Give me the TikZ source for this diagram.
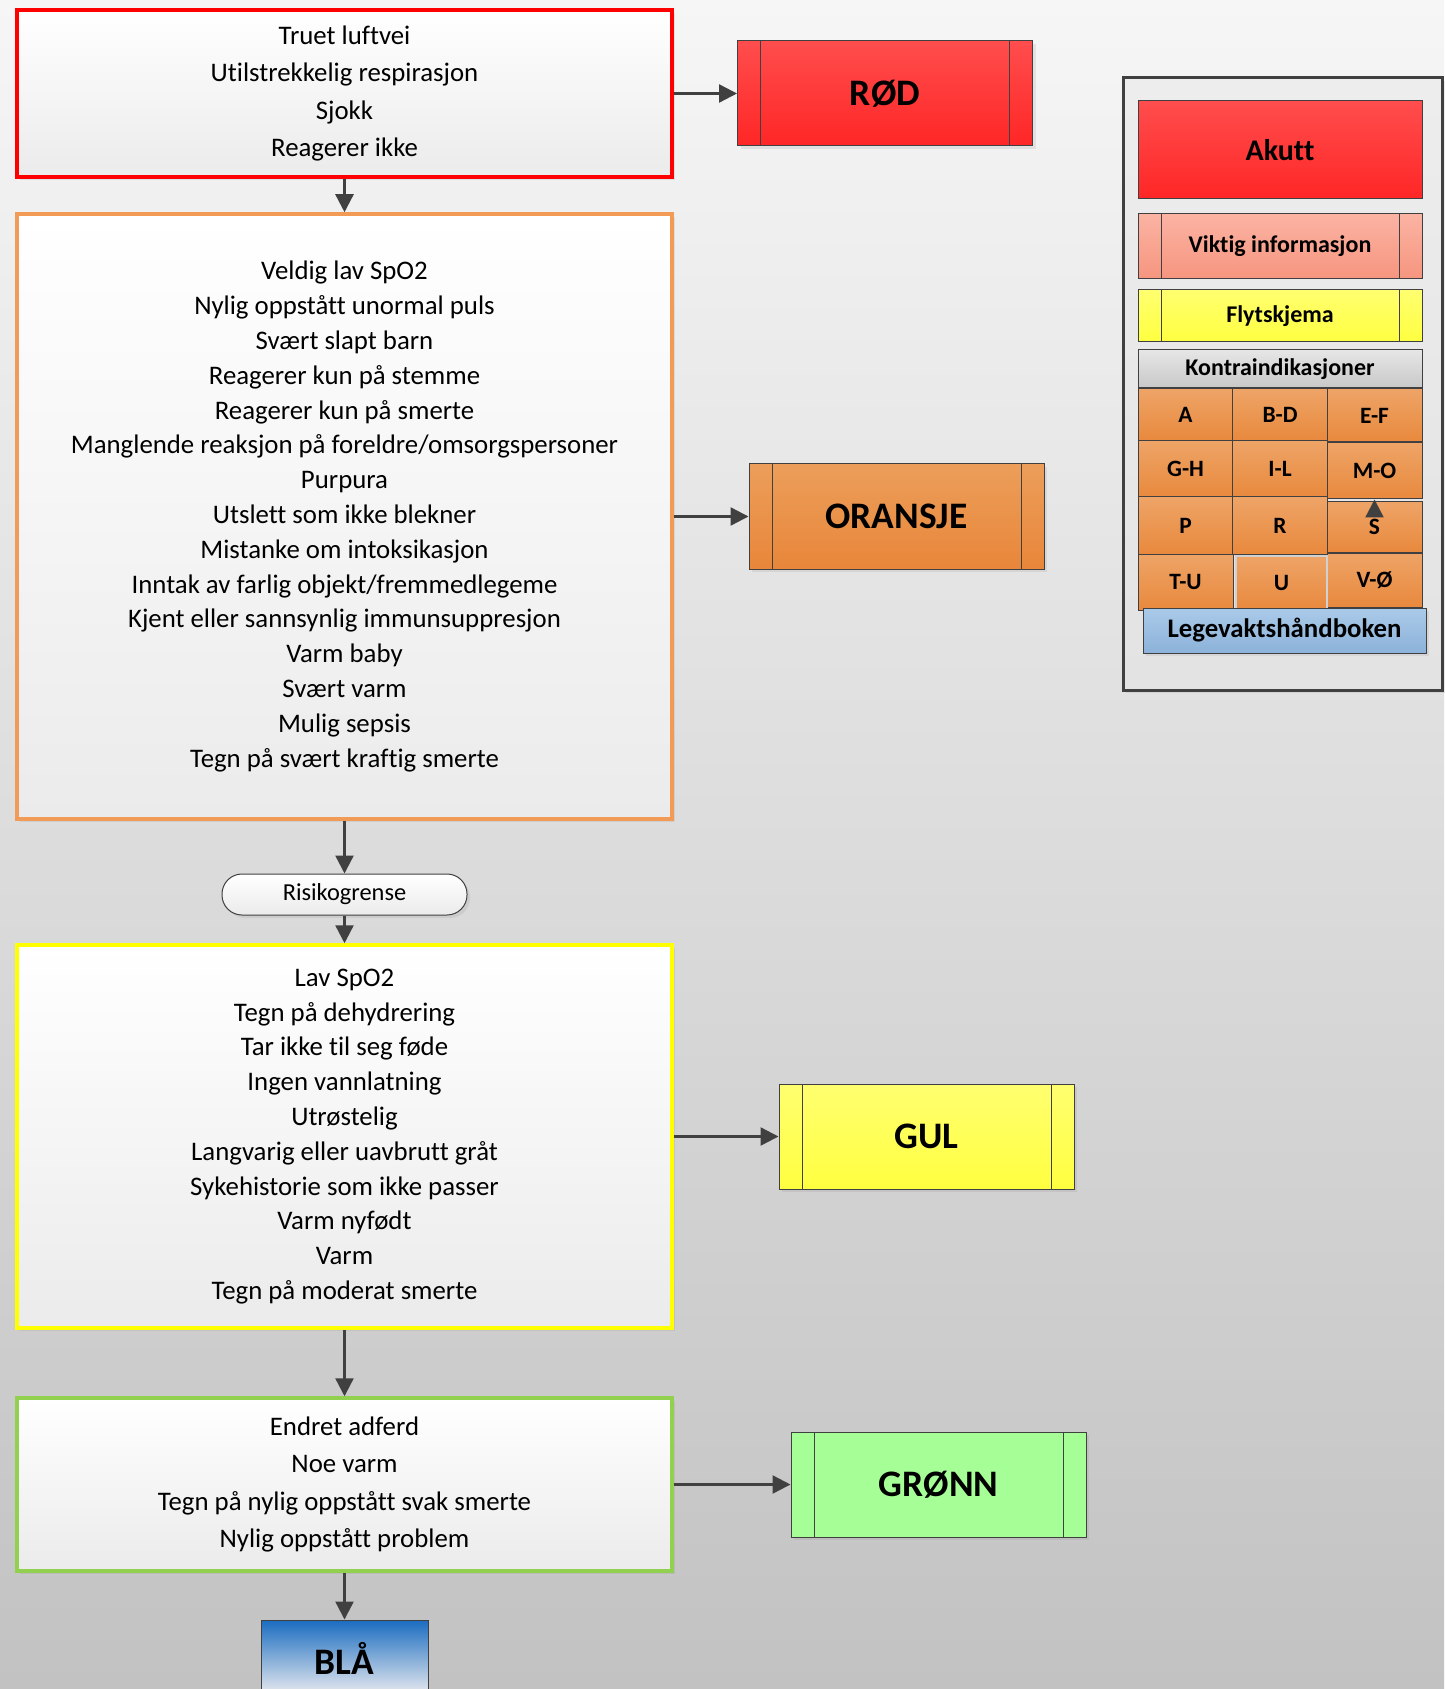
\documentclass[tikz,border=0pt]{standalone}
\usepackage{fontspec}
\setmainfont{Carlito}[Ligatures=NoCommon]
\usetikzlibrary{arrows.meta,shadows}
\definecolor{edge}{HTML}{404040}
\definecolor{bgtop}{HTML}{F6F6F6}
\definecolor{bgbot}{HTML}{C2C2C2}
\definecolor{boxbot}{HTML}{EBEBEB}
\definecolor{rimred}{HTML}{FF0000}
\definecolor{rimorg}{HTML}{F29B57}
\definecolor{rimgul}{HTML}{FFFF00}
\definecolor{rimgrn}{HTML}{92D050}
\definecolor{rodtop}{HTML}{FF4D4D}
\definecolor{rodbot}{HTML}{FF2626}
\definecolor{orgtop}{HTML}{EC9E5A}
\definecolor{orgbot}{HTML}{E8863A}
\definecolor{gultop}{HTML}{FFFF70}
\definecolor{gulbot}{HTML}{FFFF40}
\definecolor{gronn}{HTML}{A6FF96}
\definecolor{blatop}{HTML}{1A6CC0}
\definecolor{blamid}{HTML}{C0CCE6}
\definecolor{blabot}{HTML}{EDEDF0}
\definecolor{infotop}{HTML}{FBB3A3}
\definecolor{infobot}{HTML}{F6957F}
\definecolor{kitop}{HTML}{E6E6E6}
\definecolor{kibot}{HTML}{C8C8C8}
\definecolor{celltop}{HTML}{EEA467}
\definecolor{cellbot}{HTML}{E8893D}
\definecolor{lvtop}{HTML}{AACAE8}
\definecolor{lvbot}{HTML}{8CB2DA}
\tikzset{
  shd/.style={drop shadow={shadow xshift=1.5pt, shadow yshift=-1.5pt, opacity=0.15}},
  crit/.style={rectangle, draw=#1, line width=1.75pt, top color=white, bottom color=boxbot, minimum width=327.5pt, align=center, inner sep=0pt, shd},
  subproc/.style={path picture={
    \draw[edge, line width=0.5pt] ([xshift=#1]path picture bounding box.north west) -- ([xshift=#1]path picture bounding box.south west)
      ([xshift=-#1]path picture bounding box.north east) -- ([xshift=-#1]path picture bounding box.south east);}},
  lvl/.style 2 args={rectangle, draw=edge, line width=0.5pt, top color=#1, bottom color=#2, minimum width=147.5pt, minimum height=52.5pt, font=\bfseries\fontsize{18.7}{22}\selectfont, subproc=11.5pt, shd},
  pill/.style={rectangle, rounded corners=10pt, draw=edge, line width=0.5pt, top color=white, bottom color=boxbot, minimum width=122.5pt, minimum height=20.5pt, font=\fontsize{12.2}{14}\selectfont, shd},
  key/.style 2 args={rectangle, draw=edge, line width=0.5pt, top color=#1, bottom color=#2, minimum width=142pt, font=\bfseries\fontsize{12}{14}\selectfont},
  cell/.style={rectangle, draw=edge, line width=0.5pt, top color=celltop, bottom color=cellbot, minimum width=47.5pt, font=\bfseries\fontsize{11.7}{14}\selectfont},
  flow/.style={draw=edge, line width=1.2pt, -{Triangle[length=9pt,width=9pt]}}
}
\begin{document}
\begin{tikzpicture}[x=0.5pt, y=-0.5pt]
  \useasboundingbox (0,0) rectangle (1444,1689);
  \shade[top color=bgtop, bottom color=bgbot] (0,0) rectangle (1444,1689);
  % criteria
  \node[crit=rimred, minimum height=83.5pt, font=\fontsize{13.4}{18.65}\selectfont] (red) at (344.5,93.5)
    {Truet luftvei\\Utilstrekkelig respirasjon\\Sjokk\\Reagerer ikke};
  \node[crit=rimorg, minimum height=302.5pt, font=\fontsize{13.4}{17.4}\selectfont] (org) at (344.5,516.5)
    {Veldig lav SpO2\\Nylig oppstått unormal puls\\Svært slapt barn\\Reagerer kun på stemme\\Reagerer kun på smerte\\
     Manglende reaksjon på foreldre/omsorgspersoner\\Purpura\\Utslett som ikke blekner\\Mistanke om intoksikasjon\\
     Inntak av farlig objekt/fremmedlegeme\\Kjent eller sannsynlig immunsuppresjon\\Varm baby\\Svært varm\\Mulig sepsis\\
     Tegn på svært kraftig smerte};
  \node[pill] (risk) at (344.5,894.5) {Risikogrense};
  \node[crit=rimgul, minimum height=191.5pt, font=\fontsize{13.4}{17.4}\selectfont] (yel) at (344.5,1136.5)
    {Lav SpO2\\Tegn på dehydrering\\Tar ikke til seg føde\\Ingen vannlatning\\Utrøstelig\\Langvarig eller uavbrutt gråt\\
     Sykehistorie som ikke passer\\Varm nyfødt\\Varm\\Tegn på moderat smerte};
  \node[crit=rimgrn, minimum height=86.5pt, font=\fontsize{13.4}{18.65}\selectfont] (grn) at (344.5,1484.5)
    {Endret adferd\\Noe varm\\Tegn på nylig oppstått svak smerte\\Nylig oppstått problem};
  % levels
  \node[lvl={rodtop}{rodbot}] (rod) at (885,93.5) {RØD};
  \node[lvl={orgtop}{orgbot}] (oransje) at (896.5,516.5) {ORANSJE};
  \node[lvl={gultop}{gulbot}] (gul) at (926.5,1136.5) {GUL};
  \node[lvl={gronn}{gronn}] (gronn) at (938.5,1484.5) {GRØNN};
  \node[rectangle, draw=edge, line width=0.5pt, top color=blatop, middle color=blamid, bottom color=blabot,
    minimum width=83.5pt, minimum height=38pt, font=\bfseries\fontsize{18.7}{22}\selectfont] (bla) at (344.5,1658) {BLÅ};
  %
  \draw[flow] (red) -- (org);
  \draw[flow] (org) -- (risk);
  \draw[flow] (risk) -- (yel);
  \draw[flow] (yel) -- (grn);
  \draw[flow] (grn) -- (bla);
  \draw[flow] (red) -- (rod);
  \draw[flow] (org) -- (oransje);
  \draw[flow] (yel) -- (gul);
  \draw[flow] (grn) -- (gronn);
  % legend
  \node[rectangle, draw=edge, line width=1.5pt, top color=black!7, bottom color=black!11,
    minimum width=159.5pt, minimum height=306pt, shd] (panel) at (1282.5,384) {};
  \node[key={rodtop}{rodbot}, minimum height=49pt, font=\bfseries\fontsize{15}{17}\selectfont] (akutt) at (1280,150) {Akutt};
  \node[key={infotop}{infobot}, minimum height=32.5pt, subproc=11.5pt] (info) at (1280,246.5) {Viktig informasjon};
  \node[key={gultop}{gulbot}, minimum height=26pt, subproc=11.5pt] (flyt) at (1280,316) {Flytskjema};
  \node[key={kitop}{kibot}, minimum height=19pt] (kontra) at (1280,369) {Kontraindikasjoner};
  \foreach \nm/\lbl/\cx/\cy/\h in {a/A/1185.5/415/26, bd/B-D/1280/415/26, ef/E-F/1374.5/415.5/26.5,
      gh/G-H/1185.5/469/28, il/I-L/1280/469/28, mo/M-O/1374.5/471/28,
      p/P/1185.5/525.5/28.5, r/R/1280/525.5/28.5, s/S/1374.5/527/25,
      tu/T-U/1185.5/582/28, vo/V-Ø/1374.5/580/27}
    \node[cell, minimum height=\h pt] (\nm) at (\cx,\cy) {\lbl};
  \node[cell, draw=black!18, line width=1pt, minimum width=45.5pt, minimum height=27pt] (u) at (1281.5,583) {U};
  \draw[flow] (s.north) -- (mo.south);
  \node[key={lvtop}{lvbot}, minimum width=141.5pt, minimum height=22.5pt, font=\bfseries\fontsize{13.4}{16}\selectfont, shd] (lv) at (1284.5,630.5) {Legevaktshåndboken};
\end{tikzpicture}
\end{document}
